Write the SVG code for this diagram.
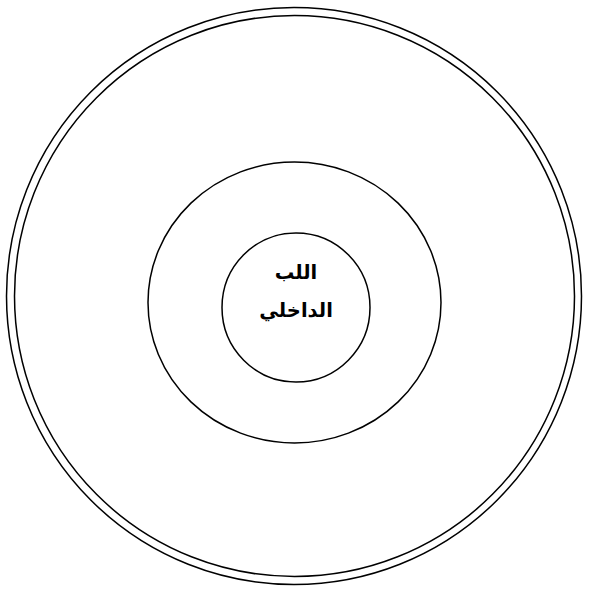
<svg xmlns="http://www.w3.org/2000/svg" width="589" height="591" viewBox="0 0 589 591">
<style>
.ring{fill:none;stroke:#000;stroke-width:1.5}
.lbl{font-family:"DejaVu Sans","Liberation Sans",sans-serif;font-weight:bold;font-size:19.5px;fill:#000;text-anchor:middle}
</style>
<rect width="589" height="591" fill="#fff"/>
<g id="outer-ring"><ellipse class="ring" cx="294" cy="296" rx="287.5" ry="288.5"/></g>
<g id="second-ring"><ellipse class="ring" cx="294.5" cy="296" rx="280" ry="280.5"/></g>
<g id="middle-ring"><ellipse class="ring" cx="294.5" cy="302.5" rx="146.5" ry="140.5"/></g>
<g id="inner-core">
<ellipse class="ring" cx="296" cy="307.5" rx="74" ry="74.5"/>
<text class="lbl" x="296" y="279" direction="rtl">اللب</text>
<text class="lbl" x="296" y="317" direction="rtl">الداخلي</text>
</g>
<g id="connectors"/>
</svg>
